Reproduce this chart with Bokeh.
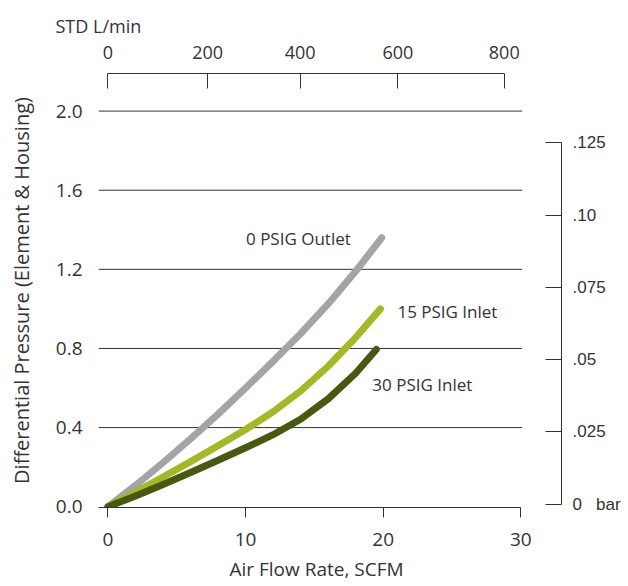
from bokeh.plotting import figure
from bokeh.models import Range1d, LinearAxis, FixedTicker, Title
from bokeh.embed import file_html
from bokeh.resources import INLINE
from bokeh.core.properties import value

# ---- data ----
flow_0 = [0, 2, 4, 6, 8, 10, 12, 14, 16, 18, 19.9]
outlet_0psig = [0, 0.108, 0.223, 0.343, 0.468, 0.600, 0.735, 0.875, 1.025, 1.19, 1.36]

flow_15 = [0, 2, 4, 6, 8, 10, 12, 14, 16, 18, 19.8]
inlet_15psig = [0, 0.074, 0.150, 0.228, 0.308, 0.39, 0.48, 0.585, 0.71, 0.855, 1.00]

flow_30 = [0, 2, 4, 6, 8, 10, 12, 14, 16, 18, 19.5]
inlet_30psig = [0, 0.054, 0.112, 0.173, 0.235, 0.298, 0.364, 0.442, 0.545, 0.675, 0.795]

x_ticks = [0, 10, 20, 30]
y_ticks = [0.0, 0.4, 0.8, 1.2, 1.6, 2.0]
y_tick_labels = ["0.0", "0.4", "0.8", "1.2", "1.6", "2.0"]
grid_levels = [0.4, 0.8, 1.2, 1.6, 2.0]

std_lpm_labels = ["0", "200", "400", "600", "800"]
std_lpm_at_scfm = [0, 7.24, 13.97, 21.07, 28.8]

bar_ticks = [0, 0.025, 0.05, 0.075, 0.10, 0.125]
bar_tick_labels = ["0\u00a0\u00a0\u00a0bar", ".025", ".05", ".075", ".10", ".125"]

FONT = "Open Sans"
INK = "#333333"
GRAY = "#a3a4a7"
LIGHT = "#a5b927"
DARK = "#46590e"

x0, x1 = -0.69, 32.96
y0, y1 = -0.004, 2.19
bar0, bar1 = -0.0012, 0.149
grid_end = 30.1

p = figure(width=628, height=586, x_range=Range1d(x0, x1), y_range=Range1d(y0, y1),
           output_backend="svg", toolbar_location=None,
           min_border_left=98, min_border_right=67, min_border_top=73, min_border_bottom=78)
p.outline_line_color = None
p.background_fill_color = "white"
p.border_fill_color = "white"
p.xgrid.visible = False
p.ygrid.visible = False

# title used as the "STD L/min" caption
p.title.text = "STD L/min"
p.title.align = "left"
p.title.offset = -43
p.title.text_font = FONT
p.title.text_font_style = "normal"
p.title.text_font_size = "18px"
p.title.text_color = INK

# bottom caption
p.add_layout(Title(text="Air Flow Rate, SCFM", align="left", offset=131, standoff=10,
                   text_font=FONT, text_font_style="normal", text_font_size="19px",
                   text_color=INK), "below")

# grid lines (only over the data area)
p.segment(x0=[x0] * len(grid_levels), x1=[grid_end] * len(grid_levels),
          y0=grid_levels, y1=grid_levels, line_color=INK, line_width=1)

# bottom axis
xa = p.xaxis[0]
xa.ticker = FixedTicker(ticks=x_ticks)
xa.bounds = (x0, 30)
xa.major_tick_out = 10
xa.major_tick_in = 0
xa.minor_tick_line_color = None
xa.axis_line_color = INK
xa.major_tick_line_color = INK
xa.major_label_text_font = FONT
xa.major_label_text_font_size = "19px"
xa.major_label_text_color = INK
xa.major_label_standoff = 15

# left axis
ya = p.yaxis[0]
ya.ticker = FixedTicker(ticks=y_ticks)
ya.major_label_overrides = {t: l for t, l in zip(y_ticks, y_tick_labels)}
ya.axis_line_color = None
ya.major_tick_line_color = None
ya.minor_tick_line_color = None
ya.major_tick_out = 0
ya.major_label_standoff = 16
ya.major_label_text_font = FONT
ya.major_label_text_font_size = "19px"
ya.major_label_text_color = INK
ya.axis_label = "Differential Pressure (Element & Housing)"
ya.axis_label_text_font = FONT
ya.axis_label_text_font_style = "normal"
ya.axis_label_text_font_size = "20px"
ya.axis_label_text_color = INK
ya.axis_label_standoff = 18

# top axis (STD L/min)
ta = LinearAxis(ticker=FixedTicker(ticks=std_lpm_at_scfm),
                major_label_overrides={t: l for t, l in zip(std_lpm_at_scfm, std_lpm_labels)},
                bounds=(0, std_lpm_at_scfm[-1]))
ta.major_tick_in = 15
ta.major_tick_out = 0
ta.minor_tick_line_color = None
ta.axis_line_color = INK
ta.major_tick_line_color = INK
ta.major_label_standoff = 15
ta.major_label_text_font = FONT
ta.major_label_text_font_size = "18px"
ta.major_label_text_color = INK
p.add_layout(ta, "above")

# right axis (bar)
p.extra_y_ranges = {"bar": Range1d(bar0, bar1)}
ra = LinearAxis(y_range_name="bar", ticker=FixedTicker(ticks=bar_ticks),
                major_label_overrides={t: l for t, l in zip(bar_ticks, bar_tick_labels)},
                bounds=(0, bar_ticks[-1]))
ra.major_tick_in = 16
ra.major_tick_out = 0
ra.minor_tick_line_color = None
ra.axis_line_color = INK
ra.major_tick_line_color = INK
ra.major_label_standoff = 11
ra.major_label_text_font = "Liberation Sans"
ra.major_label_text_font_size = "17px"
ra.major_label_text_color = INK
p.add_layout(ra, "right")

# curves
for xs, ys, col in [(flow_0, outlet_0psig, GRAY), (flow_15, inlet_15psig, LIGHT), (flow_30, inlet_30psig, DARK)]:
    p.line(xs, ys, line_color=col, line_width=7, line_cap="round", line_join="round")

# curve labels
p.text(x=[flow_0[-1]], y=[outlet_0psig[-1]], text=["0 PSIG Outlet"], text_align="right",
       text_baseline="middle", x_offset=-31, y_offset=1, text_font=value(FONT),
       text_font_size="17px", text_color=INK)
p.text(x=[flow_15[-1]], y=[inlet_15psig[-1]], text=["15 PSIG Inlet"], text_align="left",
       text_baseline="middle", x_offset=17, y_offset=3, text_font=value(FONT),
       text_font_size="17px", text_color=INK)
p.text(x=[flow_30[-1]], y=[inlet_30psig[-1]], text=["30 PSIG Inlet"], text_align="left",
       text_baseline="middle", x_offset=-4, y_offset=35, text_font=value(FONT),
       text_font_size="17px", text_color=INK)

open("out.html", "w").write(file_html(p, INLINE))
